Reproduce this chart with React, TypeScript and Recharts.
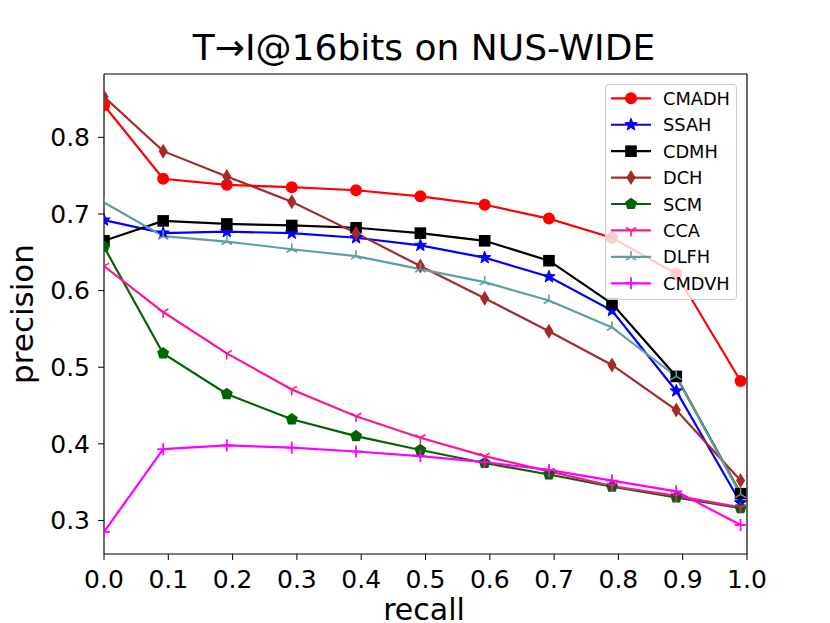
import { LineChart, Line, XAxis, YAxis, ReferenceLine } from 'recharts';

// recall positions of the 11 points
const recall = [0, 0.092, 0.191, 0.292, 0.392, 0.492, 0.592, 0.692, 0.79, 0.89, 0.99];

const cmadh = [0.842, 0.746, 0.738, 0.735, 0.731, 0.723, 0.712, 0.694, 0.669, 0.622, 0.482];
const ssah = [0.692, 0.675, 0.677, 0.675, 0.669, 0.659, 0.643, 0.618, 0.574, 0.469, 0.323];
const cdmh = [0.665, 0.691, 0.687, 0.685, 0.682, 0.675, 0.665, 0.639, 0.583, 0.488, 0.335];
const dch = [0.853, 0.782, 0.749, 0.716, 0.675, 0.632, 0.59, 0.547, 0.503, 0.444, 0.352];
const scm = [0.657, 0.518, 0.465, 0.432, 0.41, 0.392, 0.375, 0.36, 0.344, 0.33, 0.316];
const cca = [0.632, 0.572, 0.518, 0.471, 0.436, 0.408, 0.384, 0.364, 0.345, 0.332, 0.317];
const dlfh = [0.715, 0.671, 0.664, 0.654, 0.645, 0.628, 0.611, 0.587, 0.552, 0.488, 0.334];
const cmdvh = [0.285, 0.393, 0.398, 0.395, 0.39, 0.384, 0.376, 0.366, 0.352, 0.338, 0.294];

const xTicks = [0, 0.1, 0.2, 0.3, 0.4, 0.5, 0.6, 0.7, 0.8, 0.9, 1.0];
const yTicks = [0.3, 0.4, 0.5, 0.6, 0.7, 0.8];
const yDomain: [number, number] = [0.2562, 0.8827];

type Shape = 'circle' | 'star' | 'square' | 'diamond' | 'pentagon' | 'tridown' | 'triup' | 'plus';

const series: { key: string; name: string; color: string; shape: Shape; values: number[] }[] = [
  { key: 'cmadh', name: 'CMADH', color: '#ff0000', shape: 'circle', values: cmadh },
  { key: 'ssah', name: 'SSAH', color: '#0000ff', shape: 'star', values: ssah },
  { key: 'cdmh', name: 'CDMH', color: '#000000', shape: 'square', values: cdmh },
  { key: 'dch', name: 'DCH', color: '#a52a2a', shape: 'diamond', values: dch },
  { key: 'scm', name: 'SCM', color: '#006400', shape: 'pentagon', values: scm },
  { key: 'cca', name: 'CCA', color: '#ff1493', shape: 'tridown', values: cca },
  { key: 'dlfh', name: 'DLFH', color: '#5f9ea0', shape: 'triup', values: dlfh },
  { key: 'cmdvh', name: 'CMDVH', color: '#ff00ff', shape: 'plus', values: cmdvh },
];

const data = recall.map((r, i) => {
  const row: Record<string, number> = { recall: r };
  series.forEach((s) => {
    row[s.key] = s.values[i];
  });
  return row;
});

const FONT = '"DejaVu Sans", sans-serif';

const polygon = (n: number, rOut: number, rIn: number | null) => {
  const pts: string[] = [];
  const steps = rIn === null ? n : n * 2;
  for (let i = 0; i < steps; i++) {
    const r = rIn === null || i % 2 === 0 ? rOut : rIn;
    const a = -Math.PI / 2 + (i * 2 * Math.PI) / steps;
    pts.push(`${(r * Math.cos(a)).toFixed(2)},${(r * Math.sin(a)).toFixed(2)}`);
  }
  return pts.join(' ');
};

const Marker = ({ x, y, shape, color }: { x: number; y: number; shape: Shape; color: string }) => {
  const t = `translate(${x},${y})`;
  switch (shape) {
    case 'circle':
      return <circle cx={x} cy={y} r={6} fill={color} />;
    case 'star':
      return <polygon transform={t} points={polygon(5, 6.5, 2.7)} fill={color} stroke={color} strokeWidth={1} />;
    case 'square':
      return <rect x={x - 5.8} y={y - 5.8} width={11.6} height={11.6} fill={color} />;
    case 'diamond':
      return <polygon transform={t} points="0,-7.5 4.6,0 0,7.5 -4.6,0" fill={color} />;
    case 'pentagon':
      return <polygon transform={t} points={polygon(5, 6.3, null)} fill={color} />;
    case 'tridown':
      return (
        <g transform={t} stroke={color} strokeWidth={1.6}>
          <line x1={0} y1={0} x2={0} y2={6} />
          <line x1={0} y1={0} x2={-5.2} y2={-3} />
          <line x1={0} y1={0} x2={5.2} y2={-3} />
        </g>
      );
    case 'triup':
      return (
        <g transform={t} stroke={color} strokeWidth={1.6}>
          <line x1={0} y1={0} x2={0} y2={-6} />
          <line x1={0} y1={0} x2={-5.2} y2={3} />
          <line x1={0} y1={0} x2={5.2} y2={3} />
        </g>
      );
    case 'plus':
      return (
        <g transform={t} stroke={color} strokeWidth={1.8}>
          <line x1={-6} y1={0} x2={6} y2={0} />
          <line x1={0} y1={-6} x2={0} y2={6} />
        </g>
      );
  }
  return null;
};

const LegendBox = () => (
  <div
    style={{
      position: 'absolute',
      left: 605,
      top: 84,
      width: 132,
      height: 216,
      boxSizing: 'border-box',
      background: 'rgba(255,255,255,0.8)',
      border: '1px solid #cccccc',
      borderRadius: 4,
    }}
  >
    <svg width={130} height={214} style={{ position: 'absolute', left: 0, top: 0 }}>
      {series.map((s, i) => {
        const cy = 13.3 + i * 26.43;
        return (
          <g key={s.key}>
            <line x1={5} x2={45} y1={cy} y2={cy} stroke={s.color} strokeWidth={2.2} />
            <Marker x={25} y={cy} shape={s.shape} color={s.color} />
            <text x={57} y={cy} dominantBaseline="central" fontSize={17.8} fontFamily={FONT} fill="#000">
              {s.name}
            </text>
          </g>
        );
      })}
    </svg>
  </div>
);

export default function App() {
  return (
    <div style={{ position: 'absolute', left: 0, top: 0, width: 830, height: 623, background: '#fff', fontFamily: FONT }}>
      <LineChart width={830} height={623} data={data} margin={{ top: 74, right: 83, bottom: 0, left: 44 }}>
        <XAxis
          dataKey="recall"
          type="number"
          domain={[0, 1]}
          ticks={xTicks}
          allowDataOverflow
          tickFormatter={(v: number) => v.toFixed(1)}
          height={69}
          tickSize={6}
          tickMargin={10}
          stroke="#000"
          tick={{ fill: '#000', fontSize: 25, fontFamily: FONT }}
          tickLine={{ stroke: '#000' }}
          axisLine={{ stroke: '#000', strokeWidth: 1.2 }}
        />
        <YAxis
          type="number"
          domain={yDomain}
          ticks={yTicks}
          allowDataOverflow
          tickFormatter={(v: number) => v.toFixed(1)}
          width={60}
          tickSize={6}
          tickMargin={8}
          stroke="#000"
          tick={{ fill: '#000', fontSize: 25, fontFamily: FONT }}
          tickLine={{ stroke: '#000' }}
          axisLine={{ stroke: '#000', strokeWidth: 1.2 }}
        />
        {/* top and right spines */}
        <ReferenceLine y={yDomain[1]} stroke="#000" strokeWidth={1.2} />
        <ReferenceLine x={1} stroke="#000" strokeWidth={1.2} />
        {series.map((s) => (
          <Line
            key={s.key}
            dataKey={s.key}
            name={s.name}
            type="linear"
            stroke={s.color}
            strokeWidth={2.2}
            isAnimationActive={false}
            dot={(p: any) => <Marker key={`${s.key}-${p.index}`} x={p.cx} y={p.cy} shape={s.shape} color={s.color} />}
            activeDot={false}
          />
        ))}
      </LineChart>
      <svg width={830} height={623} style={{ position: 'absolute', left: 0, top: 0, pointerEvents: 'none' }}>
        <text x={424} y={60} textAnchor="middle" fontSize={36} fontFamily={FONT} fill="#000">
          T→I@16bits on NUS-WIDE
        </text>
        <text x={424} y={620} textAnchor="middle" fontSize={30} fontFamily={FONT} fill="#000">
          recall
        </text>
        <text
          x={33}
          y={314}
          textAnchor="middle"
          transform="rotate(-90 33 314)"
          fontSize={31}
          fontFamily={FONT}
          fill="#000"
        >
          precision
        </text>
      </svg>
      <LegendBox />
    </div>
  );
}
